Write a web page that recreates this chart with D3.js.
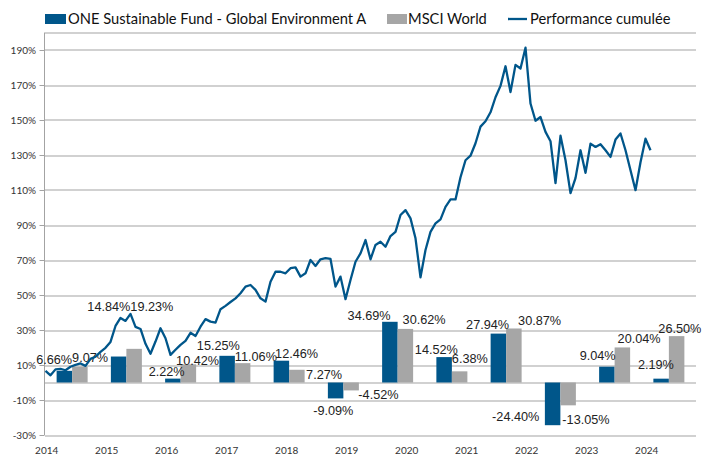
<!DOCTYPE html>
<html>
<head>
<meta charset="utf-8">
<script src="https://cdn.jsdelivr.net/npm/d3@7"></script>
<style>
  body { margin: 0; background: #fff; }
  svg { display: block; }
</style>
</head>
<body>
<div id="chart"></div>
<script>
// yearly returns (bars), one category per year
var barYears = ["2013", "2014", "2015", "2016", "2017", "2018", "2019", "2020", "2021", "2022", "2023", "2024"];
var fundReturns = [6.66, 14.84, 2.22, 15.25, 12.46, -9.09, 34.69, 14.52, 27.94, -24.40, 9.04, 2.19];
var msciReturns = [9.07, 19.23, 10.42, 11.06, 7.27, -4.52, 30.62, 6.38, 30.87, -13.05, 20.04, 26.50];

// monthly cumulative performance of the fund (%)
var cumulPerf = [
  6.7, 4.1, 7.5, 7.8, 7.0, 9.0, 10.1, 10.9, 9.5, 13.5, 14.7, 17.5,
  19.8, 23.2, 32.3, 36.9, 35.2, 39.2, 31.8, 30.6, 22.1, 16.4, 23.4, 31.0,
  25.3, 15.8, 18.7, 21.5, 23.8, 28.4, 26.6, 31.9, 36.2, 34.8, 34.2, 41.9,
  43.8, 46.0, 48.1, 51.0, 54.8, 55.7, 52.9, 48.1, 46.2, 57.6, 63.3, 63.3,
  62.4, 65.3, 65.8, 60.5, 62.4, 70.0, 66.6, 70.4, 71.1, 70.6, 54.8, 60.5,
  47.6, 58.6, 69.0, 73.8, 81.4, 70.4, 78.6, 80.4, 77.6, 83.7, 86.1, 95.7,
  98.5, 93.8, 82.4, 60.1, 75.7, 86.1, 90.9, 93.2, 100.4, 104.6, 104.6, 117.3,
  127.0, 129.6, 136.7, 146.2, 149.3, 154.4, 163.0, 169.5, 180.7, 166.0, 181.5, 179.4,
  191.3, 159.4, 149.6, 151.7, 143.2, 137.9, 113.9, 141.0, 127.0, 108.2, 116.8, 132.7,
  119.8, 136.5, 134.6, 136.2, 132.7, 128.9, 138.8, 142.3, 132.7, 121.3, 109.9, 125.9,
  139.3, 132.7
];

// tick labels
var axisYears = ["2014", "2015", "2016", "2017", "2018", "2019", "2020", "2021", "2022", "2023", "2024"];
var yTicks = [-30, -10, 10, 30, 50, 70, 90, 110, 130, 150, 170, 190];

var legendNames = ["ONE Sustainable Fund - Global Environment A", "MSCI World", "Performance cumulée"];

// manual nudges of the data labels [dx, dy] in px (labels were dragged in the original)
var fundLabelNudge = [[0,-2],[4,-41],[4,2],[5,-1],[29,2],[10,3],[-7,3],[6,1],[3,0],[-21,-17.5],[1,-2],[5,-5]];
var msciLabelNudge = [[0,0],[4,-33],[-4.5,5],[0,2],[17,14],[15,-4.6],[5,0],[0,-3.5],[12,1],[2,5.4],[3,0],[-10.5,1]];

var blue = "#00568a",
    grey = "#a6a6a6",
    gridColor = "#a3a3a3";

// set the dimensions and margins of the graph
var margin = {top: 32.5, right: 6, bottom: 19, left: 45},
    width = 702 - margin.left - margin.right,
    height = 454 - margin.top - margin.bottom;

var root = d3.select("#chart")
  .append("svg")
    .attr("width", 702)
    .attr("height", 454);

var svg = root.append("g")
    .attr("transform", "translate(" + margin.left + "," + margin.top + ")");

// scales
var y = d3.scaleLinear().domain([-30, 200]).range([height, 0]);

var x0 = d3.scaleBand()
  .domain(barYears)
  .range([0, width])
  .paddingInner(0.4286)
  .paddingOuter(0.2143);

var x1 = d3.scaleBand()
  .domain(["fund", "msci"])
  .range([0, x0.bandwidth()]);

var xLine = d3.scaleLinear()
  .domain([0, cumulPerf.length - 1])
  .range([0.5, 0.5 + 5 * (cumulPerf.length - 1)]);

// gridlines
svg.append("g")
  .selectAll("line")
  .data(yTicks.concat([200]))
  .enter()
  .append("line")
    .attr("x1", 0)
    .attr("x2", width)
    .attr("y1", function(d) { return Math.round(y(d)) + 0.5; })
    .attr("y2", function(d) { return Math.round(y(d)) + 0.5; })
    .attr("stroke", gridColor)
    .attr("stroke-width", 1);

// zero line
svg.append("line")
  .attr("x1", 0).attr("x2", width)
  .attr("y1", Math.round(y(0)) + 0.5).attr("y2", Math.round(y(0)) + 0.5)
  .attr("stroke", gridColor);

// Add Y axis
var yAxis = svg.append("g")
  .call(d3.axisLeft(y).tickValues(yTicks).tickSize(5).tickFormat(function(d) { return d + "%"; }));
yAxis.select(".domain").attr("stroke", gridColor).attr("d", "M-0.5," + height + "V0");
yAxis.selectAll(".tick line").attr("stroke", gridColor)
  .attr("transform", function() { return "translate(-0.5,0)"; });
yAxis.selectAll(".tick text")
  .attr("x", -9)
  .style("font-family", "Lato, sans-serif")
  .style("font-size", "10px")
  .attr("fill", "#333");

// Add X axis (year labels of the monthly line)
svg.append("g")
  .selectAll("text")
  .data(axisYears)
  .enter()
  .append("text")
    .attr("x", function(d, i) { return xLine(12 * i) + 1.2; })
    .attr("y", height + 18.5)
    .attr("text-anchor", "middle")
    .style("font-family", "Lato, sans-serif")
    .style("font-size", "10px")
    .attr("fill", "#333")
    .text(function(d) { return d; });

// bars
var groups = svg.append("g")
  .selectAll("g")
  .data(barYears)
  .enter()
  .append("g")
    .attr("transform", function(d) { return "translate(" + x0(d) + ",0)"; });

groups.append("rect")
  .attr("x", x1("fund"))
  .attr("width", x1.bandwidth())
  .attr("y", function(d, i) { return y(Math.max(0, fundReturns[i])); })
  .attr("height", function(d, i) { return Math.abs(y(fundReturns[i]) - y(0)); })
  .attr("fill", blue);

groups.append("rect")
  .attr("x", x1("msci"))
  .attr("width", x1.bandwidth())
  .attr("y", function(d, i) { return y(Math.max(0, msciReturns[i])); })
  .attr("height", function(d, i) { return Math.abs(y(msciReturns[i]) - y(0)); })
  .attr("fill", grey);

// data labels
function labelY(v, nudge) {
  return (v >= 0 ? y(v) - 9 : y(v) + 9) + nudge[1];
}
function fmt(v) { return v.toFixed(2) + "%"; }

groups.append("text")
  .attr("x", function(d, i) { return x0.bandwidth() / 2 + fundLabelNudge[i][0]; })
  .attr("y", function(d, i) { return labelY(fundReturns[i], fundLabelNudge[i]); })
  .attr("dy", "0.35em")
  .attr("text-anchor", "end")
  .text(function(d, i) { return fmt(fundReturns[i]); });

groups.append("text")
  .attr("x", function(d, i) { return x0.bandwidth() / 2 + msciLabelNudge[i][0]; })
  .attr("y", function(d, i) { return labelY(msciReturns[i], msciLabelNudge[i]); })
  .attr("dy", "0.35em")
  .attr("text-anchor", "start")
  .text(function(d, i) { return fmt(msciReturns[i]); });

groups.selectAll("text")
  .style("font-family", "'Liberation Sans', Arial, sans-serif")
  .style("font-size", "12.7px")
  .attr("fill", "#222");

// cumulative performance line
svg.append("path")
  .datum(cumulPerf)
  .attr("fill", "none")
  .attr("stroke", blue)
  .attr("stroke-width", 2.3)
  .attr("stroke-linejoin", "round")
  .attr("d", d3.line()
    .x(function(d, i) { return xLine(i); })
    .y(function(d) { return y(d); }));

// legend
var legend = root.append("g").attr("transform", "translate(0,19)");
var legendX = [45, 387, 508];
var legendTextX = [68, 408, 530];

legend.append("rect").attr("x", legendX[0]).attr("y", -5).attr("width", 21).attr("height", 10).attr("fill", blue);
legend.append("rect").attr("x", legendX[1]).attr("y", -5).attr("width", 20).attr("height", 10).attr("fill", grey);
legend.append("line").attr("x1", legendX[2]).attr("x2", legendX[2] + 19).attr("y1", 0).attr("y2", 0)
  .attr("stroke", blue).attr("stroke-width", 2.3);

legend.selectAll("text")
  .data(legendNames)
  .enter()
  .append("text")
    .attr("x", function(d, i) { return legendTextX[i]; })
    .attr("y", 0)
    .attr("dy", "0.36em")
    .style("font-family", "Lato, sans-serif")
    .style("font-size", "14.7px")
    .attr("fill", "#111")
    .text(function(d) { return d; });
</script>
</body>
</html>
